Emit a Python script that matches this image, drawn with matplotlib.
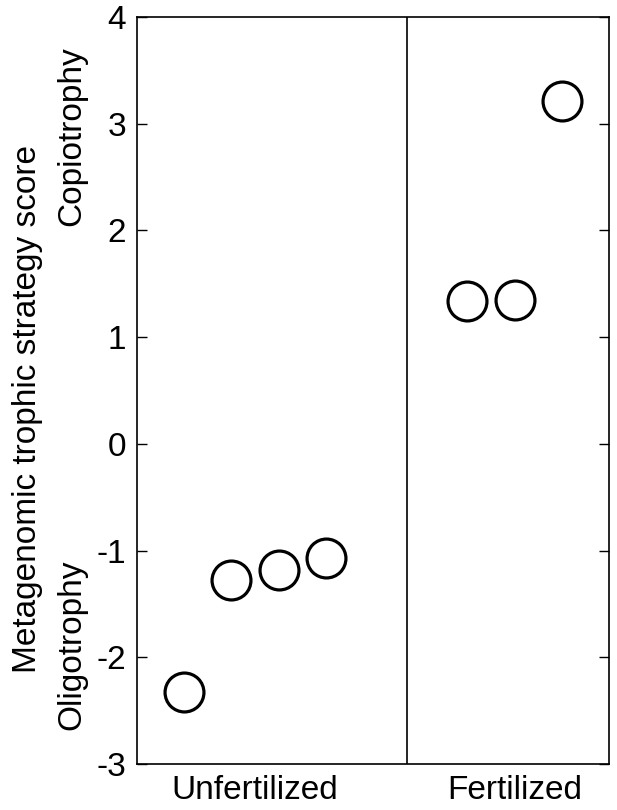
import matplotlib.pyplot as plt

plt.rcParams['font.family'] = ['Liberation Sans', 'DejaVu Sans']

# data
unfert_x = [1, 2, 3, 4]
unfert_y = [-2.33, -1.28, -1.18, -1.07]
fert_x = [7, 8, 9]
fert_y = [1.34, 1.35, 3.21]
group_ticks = [2.5, 8]
group_labels = ['Unfertilized', 'Fertilized']
divider_x = 5.72
y_ticks = [-3, -2, -1, 0, 1, 2, 3, 4]

fig = plt.figure(figsize=(6.17, 8.10), dpi=100)
ax = fig.add_axes([0.222, 0.0568, 0.765, 0.9222])

ax.plot(unfert_x + fert_x, unfert_y + fert_y, 'o', linestyle='none',
        markersize=28, markerfacecolor='none', markeredgecolor='black',
        markeredgewidth=2.3)
ax.axvline(divider_x, color='black', linewidth=1.2)

ax.set_xlim(0, 10)
ax.set_ylim(-3, 4)
ax.set_yticks(y_ticks)
ax.set_yticklabels([str(t) for t in y_ticks])
ax.set_xticks(group_ticks)
ax.set_xticklabels(group_labels)

ax.tick_params(axis='y', direction='in', length=7, width=1, right=True,
               labelsize=24, pad=8)
ax.tick_params(axis='x', length=0, labelsize=24, pad=8)
for s in ax.spines.values():
    s.set_linewidth(1.2)

# y-axis titles
ax.text(-0.138, 0.159, 'Oligotrophy', transform=ax.transAxes, rotation=90,
        ha='center', va='center', fontsize=24)
ax.text(-0.138, 0.841, 'Copiotrophy', transform=ax.transAxes, rotation=90,
        ha='center', va='center', fontsize=24)
ax.text(-0.231, 0.475, 'Metagenomic trophic strategy score', transform=ax.transAxes,
        rotation=90, ha='center', va='center', fontsize=24)

fig.savefig('out.png', dpi=100)
